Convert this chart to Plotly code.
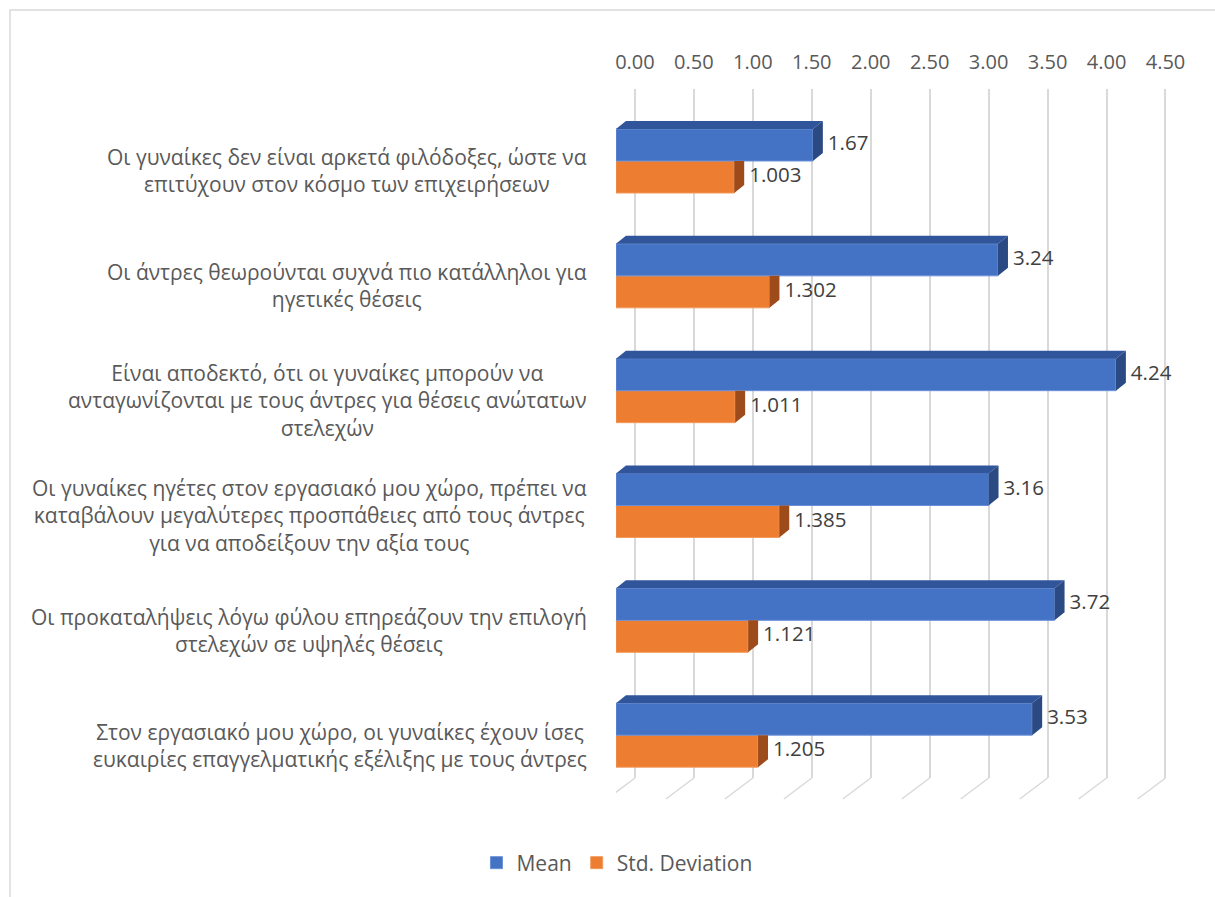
import plotly.graph_objects as go

categories = [
    "Οι γυναίκες δεν είναι αρκετά φιλόδοξες, ώστε να<br>επιτύχουν στον κόσμο των επιχειρήσεων",
    "Οι άντρες θεωρούνται συχνά πιο κατάλληλοι για<br>ηγετικές θέσεις",
    "Είναι αποδεκτό, ότι οι γυναίκες μπορούν να<br>ανταγωνίζονται με τους άντρες για θέσεις ανώτατων<br>στελεχών",
    "Οι γυναίκες ηγέτες στον εργασιακό μου χώρο, πρέπει να<br>καταβάλουν μεγαλύτερες προσπάθειες από τους άντρες<br>για να αποδείξουν την αξία τους",
    "Οι προκαταλήψεις λόγω φύλου επηρεάζουν την επιλογή<br>στελεχών σε υψηλές θέσεις",
    "Στον εργασιακό μου χώρο, οι γυναίκες έχουν ίσες<br>ευκαιρίες επαγγελματικής εξέλιξης με τους άντρες",
]
mean_values = [1.67, 3.24, 4.24, 3.16, 3.72, 3.53]
std_values = [1.003, 1.302, 1.011, 1.385, 1.121, 1.205]
tick_values = [0.0, 0.5, 1.0, 1.5, 2.0, 2.5, 3.0, 3.5, 4.0, 4.5]
series_names = ["Mean", "Std. Deviation"]

W, H = 1215, 897
FONT = "Open Sans"
TXT = "#595959"
LBL = "#404040"
GRID = "#D9D9D9"
BLUE, BLUE_TOP, BLUE_SIDE = "#4472C4", "#30559A", "#2B4A84"
ORANGE, ORANGE_SIDE = "#ED7D31", "#9E4B1B"

# geometry (pixels -> axis units)
PX_UNIT = 118.3
x_front0 = 617
x_back0 = 636
x_span = 4.8
y_top, y_bot = 89, 778
y_unit = (y_bot - y_top) / 6.0
y_first_center = 161
r_top = -(y_first_center - y_top) / y_unit
bw = 32 / y_unit          # bar thickness in category units
dx = 10 / PX_UNIT         # 3D depth (x)
dy = 8 / y_unit           # 3D depth (y)
shift = (x_back0 - x_front0) / PX_UNIT
label_gap = 5 / PX_UNIT

pos = list(range(len(categories)))

fig = go.Figure()

# front faces
fig.add_trace(go.Bar(
    y=pos, x=std_values, orientation="h", width=bw, offset=0,
    marker=dict(color=ORANGE, line=dict(color="#F29A5C", width=1)),
    name=series_names[1], xaxis="x2", yaxis="y", hoverinfo="skip", legendrank=2))
fig.add_trace(go.Bar(
    y=pos, x=mean_values, orientation="h", width=bw, offset=-bw,
    marker=dict(color=BLUE, line=dict(color="#6A91D8", width=1)),
    name=series_names[0], xaxis="x2", yaxis="y", hoverinfo="skip", legendrank=1))

# 3D faces
def poly(points_list):
    xs, ys = [], []
    for pts in points_list:
        for (a, b) in pts:
            xs.append(a); ys.append(b)
        xs.append(pts[0][0]); ys.append(pts[0][1])
        xs.append(None); ys.append(None)
    return xs, ys

o_side = []
b_top = []
b_side = []
for c, m, s in zip(pos, mean_values, std_values):
    o_side.append([(s, c), (s, c + bw), (s + dx, c + bw - dy), (s + dx, c)])
    b_top.append([(0, c - bw), (m, c - bw), (m + dx, c - bw - dy), (dx, c - bw - dy)])
    b_side.append([(m, c - bw), (m, c), (m + dx, c - dy), (m + dx, c - bw - dy)])

for pts, col in [(o_side, ORANGE_SIDE), (b_top, BLUE_TOP), (b_side, BLUE_SIDE)]:
    xs, ys = poly(pts)
    fig.add_trace(go.Scatter(x=xs, y=ys, xaxis="x2", yaxis="y", mode="lines",
                             fill="toself", fillcolor=col, line=dict(width=0, color=col),
                             showlegend=False, hoverinfo="skip"))

# data labels
fig.add_trace(go.Scatter(
    x=[m + dx + label_gap for m in mean_values], y=[c - bw / 2 for c in pos],
    text=[f"{m:.2f}" for m in mean_values], mode="text", textposition="middle right",
    textfont=dict(family=FONT, size=20.5, color=LBL), xaxis="x2", yaxis="y",
    showlegend=False, hoverinfo="skip", cliponaxis=False))
fig.add_trace(go.Scatter(
    x=[s + dx + label_gap for s in std_values], y=[c + bw / 2 for c in pos],
    text=[f"{s:.3f}" for s in std_values], mode="text", textposition="middle right",
    textfont=dict(family=FONT, size=20.5, color=LBL), xaxis="x2", yaxis="y",
    showlegend=False, hoverinfo="skip", cliponaxis=False))

# category labels
for c, cat in zip(pos, categories):
    fig.add_annotation(x=590 / W, xref="paper", xanchor="right", y=c, yref="y",
                       yanchor="middle", yshift=-10, text=cat, showarrow=False,
                       align="center", font=dict(family=FONT, size=21, color=TXT))

# floor grid diagonals
shapes = []
for v in tick_values:
    shapes.append(dict(type="line", xref="x", yref="paper",
                       x0=v, y0=1 - y_bot / H, x1=v - 28 / PX_UNIT, y1=1 - 799 / H,
                       line=dict(color=GRID, width=1.5)))
# chart border
shapes.append(dict(type="rect", xref="paper", yref="paper",
                   x0=9 / W, y0=-0.2, x1=1.2, y1=1 - 10 / H,
                   line=dict(color=GRID, width=1.5), fillcolor="rgba(0,0,0,0)"))

fig.update_layout(
    width=W, height=H,
    margin=dict(l=0, r=0, t=0, b=0),
    paper_bgcolor="white", plot_bgcolor="white",
    barmode="overlay",
    font=dict(family=FONT, color=TXT),
    xaxis=dict(domain=[x_front0 / W, (x_front0 + x_span * PX_UNIT) / W],
               range=[-shift, x_span - shift], side="top",
               tickvals=tick_values, ticktext=[f"{v:.2f}" for v in tick_values],
               tickfont=dict(family=FONT, size=20, color=TXT),
               ticks="outside", ticklen=11, tickcolor="rgba(0,0,0,0)",
               showgrid=True, gridcolor=GRID, gridwidth=1.5,
               zeroline=False, showline=False, fixedrange=True),
    xaxis2=dict(overlaying="x", range=[0, x_span], visible=False, fixedrange=True),
    yaxis=dict(domain=[1 - y_bot / H, 1 - y_top / H],
               range=[r_top + 6, r_top], visible=False, fixedrange=True),
    legend=dict(orientation="h", x=618 / W, xanchor="center", y=1 - 863 / H,
                yanchor="middle", font=dict(family=FONT, size=21, color=TXT),
                traceorder="normal"),
    shapes=shapes,
)

fig.write_html("out.html")
